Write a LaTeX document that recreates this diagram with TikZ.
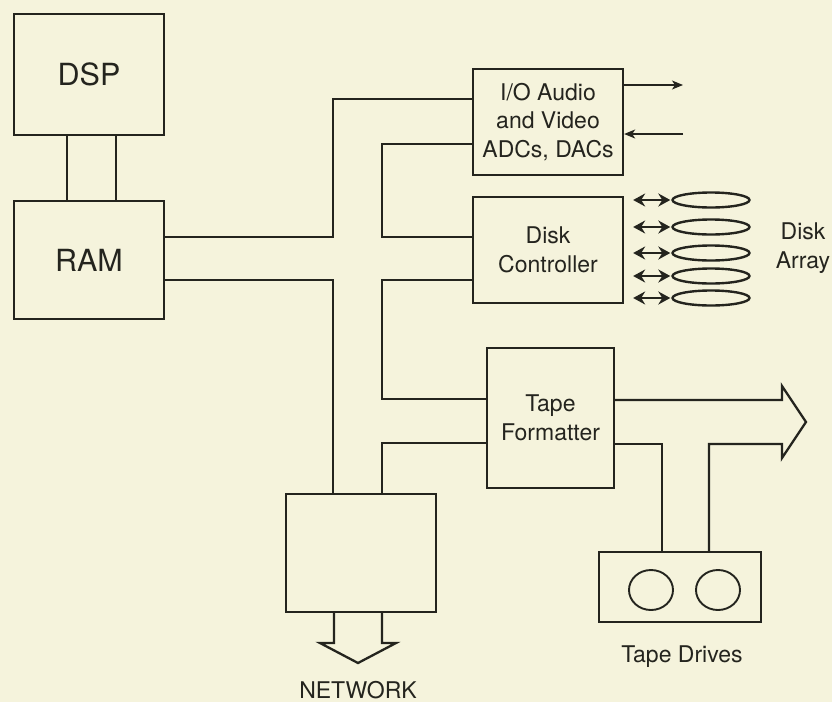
\documentclass[tikz,border=0pt]{standalone}
\usepackage{fontspec}
\setmainfont{TeX Gyre Heros}
\usetikzlibrary{arrows.meta,shapes.geometric}
\definecolor{bg}{RGB}{245,243,220}
\definecolor{ink}{RGB}{36,36,30}
\begin{document}
\begin{tikzpicture}[x=1pt,y=-1pt,
  box/.style={draw=ink,line width=2.3pt,rectangle,inner sep=0pt,align=center,text=ink,
    font=\fontsize{23}{28.5}\selectfont},
  wire/.style={draw=ink,line width=2.3pt,line join=miter},
  sig/.style={draw=ink,line width=1.3pt,-{Stealth[length=11pt,width=9pt,inset=3pt]}},
  disk/.style={draw=ink,line width=2.4pt,ellipse,minimum width=77pt,minimum height=15pt,inner sep=0pt},
  dio/.style={draw=ink,line width=2.2pt,{Stealth[length=12pt,width=13pt,inset=4pt]}-{Stealth[length=12pt,width=13pt,inset=4pt]}},
  lbl/.style={text=ink,font=\fontsize{23}{29}\selectfont,align=center,inner sep=0pt}]
\fill[bg] (0,0) rectangle (832,702);
\useasboundingbox (0,0) rectangle (832,702);

% boxes
\node[box,minimum width=150pt,minimum height=121pt,font=\fontsize{30.5}{36}\selectfont] (dsp) at (89,74.5) {DSP};
\node[box,minimum width=150pt,minimum height=118pt,font=\fontsize{30.5}{36}\selectfont] (ram) at (89,260) {RAM};
\node[box,minimum width=150pt,minimum height=106pt] (io) at (548,122) {I/O Audio\\and Video\\ADCs, DACs};
\node[box,minimum width=150pt,minimum height=106pt] (dc) at (548,250) {Disk\\Controller};
\node[box,minimum width=127pt,minimum height=140pt] (tf) at (550.5,418) {Tape\\Formatter};
\node[box,minimum width=150pt,minimum height=118pt] (net) at (361,553) {};
\node[box,minimum width=162pt,minimum height=70pt] (td) at (680,587) {};

% tape reels
\draw[ink,line width=1.9pt] (651,590) ellipse [x radius=22pt,y radius=20pt];
\draw[ink,line width=1.9pt] (718,590) ellipse [x radius=22pt,y radius=20pt];

% disks
\node[disk] (d1) at (711,200) {};
\node[disk] (d2) at (711,227) {};
\node[disk] (d3) at (711,253) {};
\node[disk] (d4) at (711,276) {};
\node[disk] (d5) at (711,298) {};
\coordinate (dcx) at ([xshift=9pt]dc.east);
\foreach \d in {d1,d2,d3,d4,d5}
  \draw[dio] (dcx |- \d) -- ([xshift=-1pt]\d.west);

% labels
\node[lbl] (dal) at (803,248) {Disk\\Array};
\node[lbl] (tdl) at (682,657) {Tape Drives};
\node[lbl] (netl) at (358,690) {NETWORK};

% DSP - RAM
\draw[wire] (dsp.south -| 67,0) -- (ram.north -| 67,0);
\draw[wire] (dsp.south -| 116,0) -- (ram.north -| 116,0);

% buses
\draw[wire] (ram.east |- 0,237) -| (333,99) -- (io.west |- 0,99);
\draw[wire] (ram.east |- 0,280) -| (net.north -| 333,0);
\draw[wire] (io.west |- 0,144) -| (382,237) -- (dc.west |- 0,237);
\draw[wire] (dc.west |- 0,280) -| (382,399) -- (tf.west |- 0,399);
\draw[wire] (tf.west |- 0,443) -| (net.north -| 382,0);
\draw[wire] (tf.east |- 0,444) -| (td.north -| 662,0);

% wide output arrow
\draw[wire] (tf.east |- 0,400) -- (782,400) -- (782,386) -- (806,422) -- (782,458) -- (782,444) -| (td.north -| 709,0);

% network arrow
\draw[wire] (net.south -| 334,0) -- (334,643) -- (320,643) -- (358,663) -- (396,643) -- (382,643) -- (net.south -| 382,0);

% I/O signals
\coordinate (ioout) at (683,85);
\coordinate (ioin) at (683,134);
\draw[sig] (io.east |- ioout) -- (ioout);
\draw[sig] (ioin) -- (io.east |- ioin);
\end{tikzpicture}
\end{document}
